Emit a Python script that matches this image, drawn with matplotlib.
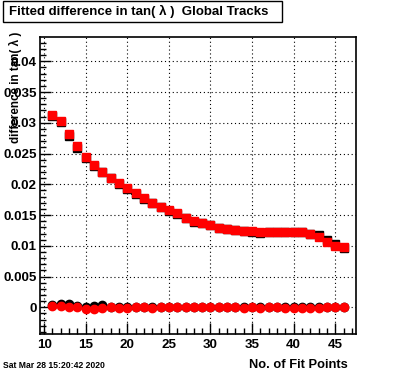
import matplotlib
matplotlib.use("Agg")
import matplotlib.pyplot as plt
from matplotlib.patches import Rectangle
from matplotlib.ticker import MultipleLocator, FixedLocator
import numpy as np

plt.rcParams['font.family'] = ['Liberation Sans', 'DejaVu Sans']

fit_points = list(range(11, 47))

red_upper = [0.03127, 0.03029, 0.02818, 0.02623, 0.02444, 0.02314, 0.02205, 0.02102,
             0.02021, 0.01940, 0.01854, 0.01775, 0.01701, 0.01636, 0.01582, 0.01533,
             0.01457, 0.01408, 0.01376, 0.01343, 0.01294, 0.01278, 0.01262, 0.01246,
             0.01240, 0.01224, 0.01224, 0.01224, 0.01224, 0.01224, 0.01230, 0.01192,
             0.01148, 0.01067, 0.01002, 0.00985]
black_upper = [0.03110, 0.03015, 0.02790, 0.02595, 0.02430, 0.02295, 0.02200, 0.02095,
               0.02005, 0.01925, 0.01845, 0.01765, 0.01695, 0.01625, 0.01560, 0.01510,
               0.01445, 0.01390, 0.01370, 0.01335, 0.01290, 0.01275, 0.01255, 0.01235,
               0.01230, 0.01215, 0.01220, 0.01220, 0.01220, 0.01220, 0.01225, 0.01190,
               0.01170, 0.01095, 0.01025, 0.00965]
red_lower = [0.0002, 0.0002, 0.0000, 0.0000, -0.0002, -0.0003, -0.0001, 0.0000,
             -0.0001, -0.0001, 0.0000, 0.0000, -0.0001, 0.0000, 0.0000, 0.0000,
             0.0000, 0.0000, 0.0000, 0.0000, 0.0000, 0.0000, 0.0000, -0.0001,
             0.0000, -0.0001, 0.0000, 0.0000, -0.0001, -0.0001, -0.0001, -0.0001,
             -0.0001, 0.0000, 0.0000, 0.0000]
black_lower = [0.0004, 0.0006, 0.0006, 0.0002, 0.0001, 0.0002, 0.0003, 0.0001,
               0.0000, 0.0000, 0.0000, 0.0000, 0.0000, 0.0000, 0.0000, 0.0000,
               0.0000, 0.0000, 0.0000, 0.0000, 0.0000, 0.0000, 0.0000, 0.0001,
               0.0000, 0.0001, 0.0001, 0.0001, 0.0001, 0.0000, 0.0000, 0.0000,
               0.0000, 0.0000, 0.0001, 0.0001]

y_ticks = [0, 0.005, 0.01, 0.015, 0.02, 0.025, 0.03, 0.035, 0.04]
y_tick_labels = ["0", "0.005", "0.01", "0.015", "0.02", "0.025", "0.03", "0.035", "0.04"]
x_ticks = [10, 15, 20, 25, 30, 35, 40, 45]

title_text = "Fitted difference in tan( λ )  Global Tracks"
y_title = "difference in tan( λ )"
x_title = "No. of Fit Points"
date_text = "Sat Mar 28 15:20:42 2020"

W, H = 396, 372
fig = plt.figure(figsize=(W / 100, H / 100), dpi=100)
ax = fig.add_axes([40 / W, 1 - 334 / H, (356 - 40) / W, (334 - 37) / H])

ax.set_xlim(9.5, 47.5)
ax.set_ylim(-0.00434, 0.04395)

x = np.array(fit_points)
# black series with x error bars
ax.errorbar(x, black_upper, xerr=0.5, fmt='s', color='black', ms=5.4,
            elinewidth=1.4, capsize=0, zorder=3)
ax.plot(x, red_upper, 's', color='#ff0000', ms=5.4, mec='#ff0000', zorder=4)
ax.errorbar(x, black_lower, xerr=0.5, fmt='o', color='black', ms=6.0,
            elinewidth=1.4, capsize=0, zorder=3)
ax.plot(x, red_lower, 'o', color='#ff0000', ms=6.0, mec='#ff0000', zorder=4)

ax.yaxis.set_major_locator(FixedLocator(y_ticks))
ax.set_yticklabels(y_tick_labels)
ax.yaxis.set_minor_locator(MultipleLocator(0.001))
ax.xaxis.set_major_locator(FixedLocator(x_ticks))
ax.xaxis.set_minor_locator(MultipleLocator(1))

ax.grid(True, which='major', color='black', linestyle=(0, (1, 2.5)), linewidth=0.8)
ax.set_axisbelow(True)

ax.tick_params(axis='both', which='major', direction='in', length=8, width=1,
               labelsize=9.6, pad=2.5)
ax.tick_params(axis='both', which='minor', direction='in', length=4, width=1)
ax.tick_params(axis='x', which='major', pad=3.5)
for lab in ax.get_xticklabels() + ax.get_yticklabels():
    lab.set_fontweight('bold')
for sp in ax.spines.values():
    sp.set_linewidth(1.2)

# title box
fig.patches.append(Rectangle((3 / W, 1 - 22 / H), (282 - 3) / W, 21 / H,
                             transform=fig.transFigure, fill=True, facecolor='white',
                             edgecolor='black', linewidth=1.0))
fig.text(9 / W, 1 - 11.5 / H, title_text, ha='left', va='center',
         fontsize=9.5, fontweight='bold')

fig.text(15 / W, 1 - 32 / H, y_title, rotation=90, ha='center', va='top',
         fontsize=8.4, fontweight='bold')
fig.text(348 / W, 1 - 365 / H, x_title, ha='right', va='center',
         fontsize=9.3, fontweight='bold')
fig.text(3 / W, 1 - 365 / H, date_text, ha='left', va='center',
         fontsize=6.2, fontweight='bold')

fig.savefig("out.png", dpi=100)
